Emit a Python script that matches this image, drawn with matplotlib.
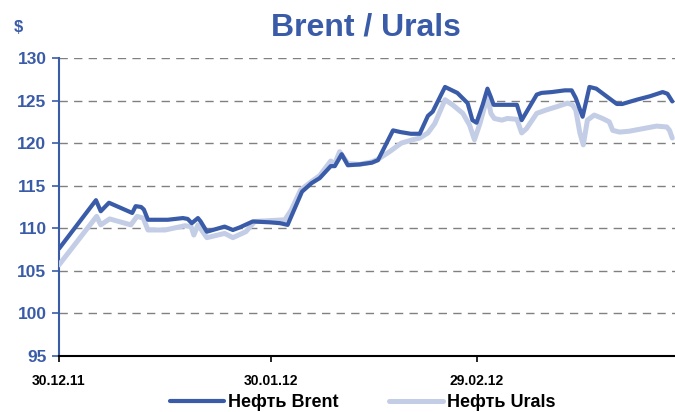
import matplotlib
matplotlib.use("Agg")
import matplotlib.pyplot as plt
import pandas as pd

# Days since 30.12.11 and prices, $ per barrel
brent_days = [0, 5.4, 6.1, 7.3, 10.7, 11.2, 12.0, 12.4, 13.0, 15.9, 18.1, 18.8, 19.4,
              20.3, 20.7, 21.6, 24.2, 25.4, 26.4, 28.3, 30.8, 32.3, 33.4, 35.5, 36.9,
              38.1, 39.7, 40.3, 41.3, 42.2, 43.9, 45.7, 46.6, 48.8, 49.9, 51.4, 52.7,
              53.9, 54.6, 56.4, 58.2, 59.7, 60.4, 61.0, 61.9, 62.6, 63.1, 63.5, 66.9,
              67.6, 69.8, 70.5, 72.0, 73.9, 74.9, 75.5, 76.5, 77.5, 78.5, 80.0, 81.5,
              82.3, 84.4, 86.3, 88.2, 88.9, 89.6]
brent = [107.6, 113.3, 112.0, 113.0, 111.8, 112.6, 112.5, 112.2, 111.0, 111.0, 111.2,
         111.1, 110.6, 111.2, 110.8, 109.6, 110.2, 109.8, 110.1, 110.8, 110.7, 110.6,
         110.4, 114.3, 115.3, 115.9, 117.3, 117.3, 118.7, 117.4, 117.5, 117.7, 118.0,
         121.5, 121.3, 121.1, 121.1, 123.2, 123.7, 126.6, 125.9, 124.7, 122.7, 122.4,
         124.5, 126.4, 125.4, 124.5, 124.5, 122.7, 125.7, 125.9, 126.0, 126.2, 126.2,
         125.3, 123.1, 126.6, 126.4, 125.5, 124.6, 124.6, 125.1, 125.5, 126.0, 125.8,
         124.9]

urals_days = [0, 5.5, 6.1, 7.4, 10.5, 11.4, 12.3, 13.0, 15.5, 18.4, 19.3, 19.7, 20.3,
              21.6, 24.2, 25.4, 27.3, 28.6, 33.0, 33.9, 35.3, 36.9, 38.1, 39.7, 40.3,
              41.0, 42.2, 43.9, 45.7, 46.6, 48.3, 50.0, 51.7, 52.7, 53.9, 54.9, 56.4,
              57.5, 59.0, 60.0, 60.7, 61.5, 62.6, 63.1, 63.6, 64.7, 65.5, 66.9, 67.6,
              68.3, 69.8, 71.2, 72.8, 74.3, 75.0, 75.5, 76.1, 76.6, 77.2, 78.2, 79.4,
              80.4, 80.9, 81.9, 83.3, 85.3, 87.3, 88.8, 89.2, 89.6]
urals = [105.7, 111.4, 110.4, 111.1, 110.4, 111.4, 111.2, 109.8, 109.8, 110.3, 110.2,
         109.2, 110.4, 108.9, 109.4, 108.9, 109.6, 110.8, 111.0, 112.1, 114.5, 115.5,
         116.2, 117.9, 117.6, 119.0, 117.6, 117.5, 117.8, 118.1, 119.0, 120.0, 120.4,
         120.6, 121.2, 122.3, 125.1, 124.5, 123.5, 122.1, 120.4, 122.3, 125.5, 123.5,
         122.9, 122.7, 122.9, 122.8, 121.2, 121.7, 123.5, 123.9, 124.3, 124.7, 124.5,
         123.9, 121.2, 119.8, 122.7, 123.3, 122.9, 122.5, 121.5, 121.3, 121.4, 121.7,
         122.0, 121.9, 121.5, 120.6]

tick_labels = ["30.12.11", "30.01.12", "29.02.12"]
y_ticks = [95, 100, 105, 110, 115, 120, 125, 130]

BLUE = "#3a5ca8"
LIGHT = "#c3cde6"

plt.rcParams["font.family"] = ["Liberation Sans", "DejaVu Sans"]

start = pd.to_datetime(tick_labels[0], format="%d.%m.%y")
tick_pos = [(pd.to_datetime(t, format="%d.%m.%y") - start).days for t in tick_labels]

fig = plt.figure(figsize=(6.75, 4.12), dpi=100)
ax = fig.add_axes([59 / 675, 56 / 412, 616 / 675, 298 / 412])

ax.plot(urals_days, urals, color=LIGHT, lw=3.6, solid_joinstyle="round",
        solid_capstyle="round", label="Нефть Urals", zorder=3)
ax.plot(brent_days, brent, color=BLUE, lw=3.0, solid_joinstyle="round",
        solid_capstyle="round", label="Нефть Brent", zorder=4)

ax.set_xlim(0, 90)
ax.set_ylim(95, 130)
ax.set_yticks(y_ticks)
ax.set_xticks(tick_pos)
ax.set_xticklabels(tick_labels, fontsize=10, fontweight="bold", color="black")
for lab in ax.get_yticklabels():
    lab.set_fontsize(12.5)
    lab.set_fontweight("bold")
    lab.set_color(BLUE)

ax.grid(axis="y", color="#808080", linestyle=(0, (6, 4.5)), linewidth=1.0)
ax.set_axisbelow(True)
for s in ["top", "right"]:
    ax.spines[s].set_visible(False)
ax.spines["left"].set_color(BLUE)
ax.spines["left"].set_linewidth(1.5)
ax.spines["bottom"].set_color("black")
ax.spines["bottom"].set_linewidth(1.5)
ax.tick_params(axis="y", colors=BLUE, length=5, width=1.2, pad=4)
ax.tick_params(axis="x", colors="black", length=4, width=1.2, pad=9)

fig.text(366 / 675, 1 - 28 / 412, "Brent / Urals", ha="center", va="center",
         fontsize=23, fontweight="bold", color=BLUE)
fig.text(18 / 675, 1 - 27 / 412, "$", ha="center", va="center",
         fontsize=12, fontweight="bold", color=BLUE)

handles, labels = ax.get_legend_handles_labels()
fig.legend(handles[::-1], labels[::-1], loc="center", bbox_to_anchor=(0.537, 0.022),
           ncol=2, frameon=False, handlelength=3.0, handletextpad=0.2,
           columnspacing=2.8, prop={"size": 13, "weight": "bold"})

fig.savefig("out.png", dpi=100)
